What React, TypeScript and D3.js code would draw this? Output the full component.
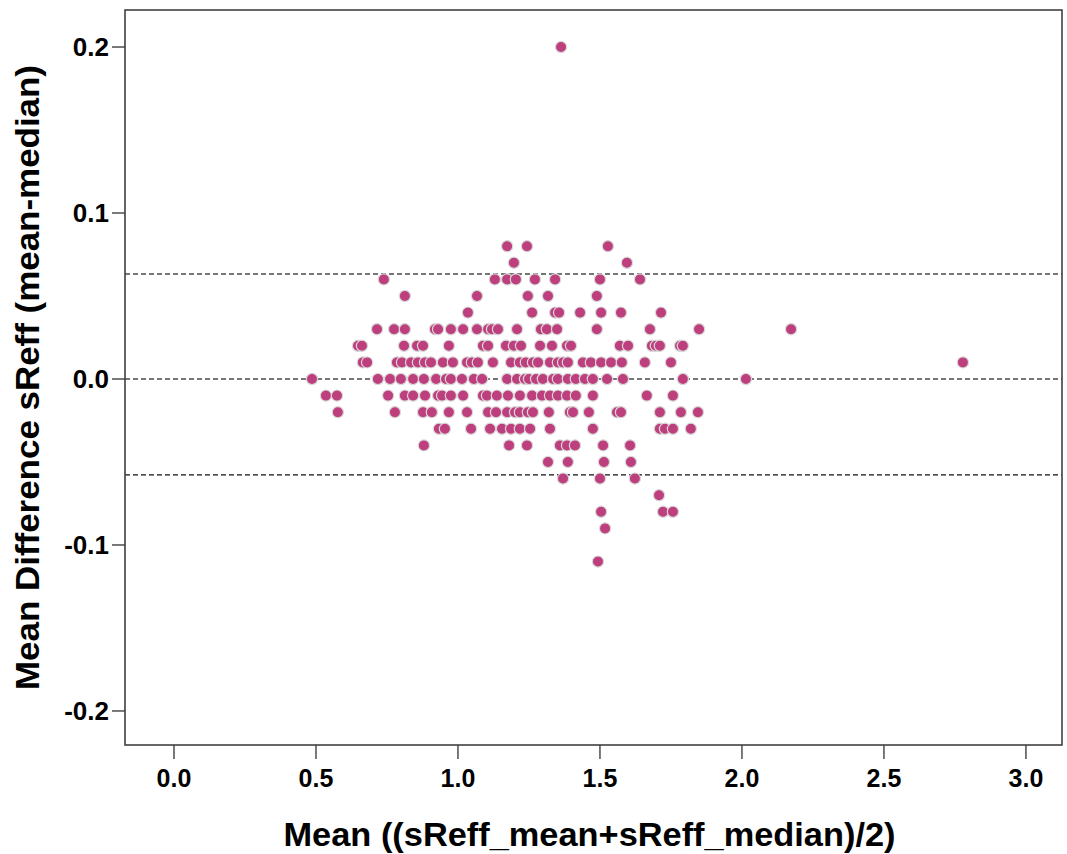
import React from "react";
import * as d3 from "d3";

// Difference levels (mean - median) and the mean values observed at each level
const diffLevels = [0.2, 0.08, 0.07, 0.06, 0.05, 0.04, 0.03, 0.02, 0.01, 0.0, -0.01, -0.02, -0.03, -0.04, -0.05, -0.06, -0.07, -0.08, -0.09, -0.11];

const meansP20 = [1.363];
const meansP08 = [1.173, 1.243, 1.528];
const meansP07 = [1.197, 1.595];
const meansP06 = [0.739, 1.13, 1.173, 1.204, 1.271, 1.342, 1.5, 1.641];
const meansP05 = [0.813, 1.067, 1.246, 1.317, 1.489];
const meansP04 = [1.035, 1.261, 1.342, 1.356, 1.43, 1.504, 1.574, 1.715];
const meansP03 = [0.715, 0.775, 0.813, 0.919, 0.93, 0.975, 1.018, 1.067, 1.106, 1.12, 1.141, 1.208, 1.292, 1.313, 1.349, 1.489, 1.676, 1.849, 2.173];
const meansP02 = [0.648, 0.662, 0.81, 0.856, 0.877, 0.968, 1.088, 1.106, 1.169, 1.197, 1.222, 1.289, 1.331, 1.384, 1.398, 1.57, 1.599, 1.683, 1.697, 1.711, 1.782, 1.792];
const meansP01 = [0.665, 0.68, 0.785, 0.803, 0.835, 0.859, 0.884, 0.905, 0.947, 0.982, 1.032, 1.049, 1.07, 1.123, 1.187, 1.218, 1.239, 1.264, 1.282, 1.324, 1.352, 1.37, 1.387, 1.44, 1.468, 1.504, 1.539, 1.577, 1.658, 1.75, 2.778];
const meansZero = [0.486, 0.718, 0.761, 0.799, 0.842, 0.88, 0.923, 0.958, 0.975, 1.014, 1.056, 1.085, 1.173, 1.208, 1.236, 1.25, 1.275, 1.299, 1.335, 1.352, 1.387, 1.415, 1.447, 1.475, 1.525, 1.581, 1.792, 2.014];
const meansN01 = [0.535, 0.574, 0.754, 0.813, 0.842, 0.884, 0.93, 0.944, 0.975, 1.018, 1.088, 1.102, 1.137, 1.176, 1.218, 1.261, 1.296, 1.324, 1.352, 1.384, 1.415, 1.475, 1.665, 1.757];
const meansN02 = [0.577, 0.778, 0.877, 0.908, 0.968, 1.032, 1.106, 1.134, 1.173, 1.201, 1.218, 1.246, 1.264, 1.32, 1.394, 1.405, 1.461, 1.56, 1.574, 1.711, 1.785, 1.845];
const meansN03 = [0.933, 0.954, 1.046, 1.113, 1.155, 1.187, 1.218, 1.254, 1.324, 1.475, 1.711, 1.729, 1.757, 1.82];
const meansN04 = [0.88, 1.18, 1.243, 1.359, 1.384, 1.412, 1.511, 1.606];
const meansN05 = [1.317, 1.387, 1.514, 1.609];
const meansN06 = [1.37, 1.5, 1.623];
const meansN07 = [1.708];
const meansN08 = [1.504, 1.722, 1.757];
const meansN09 = [1.518];
const meansN11 = [1.493];

const meansByLevel = [meansP20, meansP08, meansP07, meansP06, meansP05, meansP04, meansP03, meansP02, meansP01, meansZero, meansN01, meansN02, meansN03, meansN04, meansN05, meansN06, meansN07, meansN08, meansN09, meansN11];

// Reference lines: upper limit, mean difference, lower limit
const refLines = [0.0633, 0.0, -0.0578];

const xTicks = [0, 0.5, 1.0, 1.5, 2.0, 2.5, 3.0];
const yTicks = [0.2, 0.1, 0.0, -0.1, -0.2];

const xTitle = "Mean ((sReff_mean+sReff_median)/2)";
const yTitle = "Mean Difference sReff (mean-median)";

export default function App() {
  const W = 1067;
  const H = 854;
  const left = 125, right = 1062, top = 10, bottom = 745;

  const x = d3.scaleLinear().domain([-0.1725, 3.127]).range([left, right]);
  const y = d3.scaleLinear().domain([-0.2205, 0.2223]).range([bottom, top]);

  const points: { m: number; d: number }[] = [];
  diffLevels.forEach((d, i) => {
    meansByLevel[i].forEach((m) => points.push({ m, d }));
  });

  const font = "'Liberation Sans', Arial, sans-serif";
  const axisColor = "#404040";

  return (
    <svg
      width={W}
      height={H}
      style={{ position: "absolute", left: 0, top: 0, background: "#fff" }}
      fontFamily={font}
    >
      <rect x={0} y={0} width={W} height={H} fill="#fff" />

      {/* reference lines */}
      {refLines.map((v, i) => (
        <line
          key={"ref" + i}
          x1={left}
          x2={right}
          y1={y(v)}
          y2={y(v)}
          stroke={i === 2 ? "#111" : "#4a4a4a"}
          strokeWidth={i === 2 ? 1.3 : 1.5}
          strokeDasharray="5,3"
        />
      ))}

      {/* points */}
      {points.map((p, i) => (
        <circle
          key={"p" + i}
          cx={x(p.m)}
          cy={y(p.d)}
          r={5.6}
          fill="#BE3F7E"
          stroke="#d8d8d8"
          strokeWidth={1.2}
        />
      ))}

      {/* frame */}
      <rect
        x={left}
        y={top}
        width={right - left}
        height={bottom - top}
        fill="none"
        stroke={axisColor}
        strokeWidth={1.6}
      />

      {/* y ticks */}
      {yTicks.map((t) => (
        <g key={"yt" + t}>
          <line x1={left - 13} x2={left} y1={y(t)} y2={y(t)} stroke={axisColor} strokeWidth={1.4} />
          <text
            x={left - 16}
            y={y(t)}
            dy="0.36em"
            textAnchor="end"
            fontSize={26}
            fontWeight="bold"
            fill="#000"
          >
            {d3.format(".1f")(t).replace("−", "-")}
          </text>
        </g>
      ))}

      {/* x ticks */}
      {xTicks.map((t) => (
        <g key={"xt" + t}>
          <line x1={x(t)} x2={x(t)} y1={bottom} y2={bottom + 14} stroke={axisColor} strokeWidth={1.4} />
          <text
            x={x(t)}
            y={bottom + 42}
            textAnchor="middle"
            fontSize={25}
            fontWeight="bold"
            fill="#000"
          >
            {d3.format(".1f")(t)}
          </text>
        </g>
      ))}

      {/* axis titles */}
      <text
        x={(left + right) / 2 - 4}
        y={846}
        textAnchor="middle"
        fontSize={33}
        fontWeight="bold"
        fill="#000"
        textLength={612}
        lengthAdjust="spacingAndGlyphs"
      >
        {xTitle}
      </text>
      <text
        transform={`translate(39, ${(65 + 690) / 2}) rotate(-90)`}
        textAnchor="middle"
        fontSize={33}
        fontWeight="bold"
        fill="#000"
        textLength={625}
        lengthAdjust="spacingAndGlyphs"
      >
        {yTitle}
      </text>
    </svg>
  );
}
